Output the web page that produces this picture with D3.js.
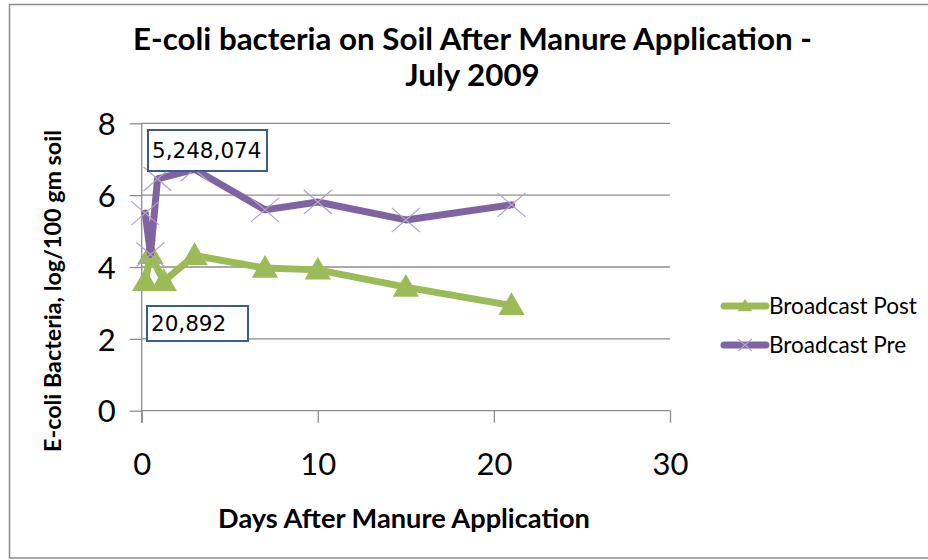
<!DOCTYPE html>
<html>
<head>
<meta charset="utf-8">
<script src="https://cdn.jsdelivr.net/npm/d3@7"></script>
<style>
  html, body { margin: 0; padding: 0; background: #fff; }
  svg { display: block; }
</style>
</head>
<body>
<svg id="chart" width="928" height="560"></svg>
<script>
// ---- data ----
const titleLines = ["E-coli bacteria on Soil After Manure Application -", "July 2009"];
const xTicks = [0, 10, 20, 30];
const yTicks = [0, 2, 4, 6, 8];
const seriesNames = ["Broadcast Post", "Broadcast Pre"];
const postDays = [0.2, 0.5, 1.25, 3, 7, 10, 15, 21];
const postValues = [3.6, 4.35, 3.6, 4.32, 3.97, 3.92, 3.44, 2.93];
const preDays = [0.2, 0.5, 0.9, 3, 7, 10, 15, 21];
const preValues = [5.5, 4.35, 6.45, 6.72, 5.59, 5.81, 5.31, 5.73];
const annotations = ["5,248,074", "20,892"];
const xLabel = "Days After Manure Application";
const yLabel = "E-coli Bacteria, log/100 gm soil";

// ---- layout ----
const svg = d3.select("#chart");
const font = "Lato, 'Open Sans', sans-serif";
const gridColor = "#8c8c8c";
const green = "#9BBB59", purple = "#8064A2", xColor = "#B3A2C7";

// outer border
svg.append("rect").attr("x", 9.5).attr("y", 4.5).attr("width", 940).attr("height", 553.5)
  .attr("fill", "#fff").attr("stroke", "#8c8c8c").attr("stroke-width", 1.5);

const x = d3.scaleLinear().domain([0, 30]).range([141.7, 670]);
const y = d3.scaleLinear().domain([0, 8]).range([410.7, 123.3]);

function fit(sel, w) {
  const n = sel.node();
  const fs = parseFloat(sel.attr("font-size"));
  const cw = n.getComputedTextLength();
  const nf = fs * w / cw;
  sel.attr("font-size", nf.toFixed(2));
  return nf;
}

// title
let titleSize = 26;
titleLines.forEach((t, i) => {
  const s = svg.append("text").attr("x", 472.5).attr("y", i === 0 ? 50 : 85.5)
    .attr("text-anchor", "middle").attr("font-family", font).attr("font-weight", "bold")
    .attr("font-size", titleSize).attr("fill", "#000").text(t);
  if (i === 0) titleSize = fit(s, 679);
});

// gridlines
svg.append("g").selectAll("line").data(yTicks.filter(d => d > 0)).join("line")
  .attr("x1", x(0)).attr("x2", x(30)).attr("y1", d => y(d)).attr("y2", d => y(d))
  .attr("stroke", gridColor).attr("stroke-width", 1.3);

// axes
const yAxis = d3.axisLeft(y).tickValues(yTicks).tickSize(12).tickPadding(14).tickFormat(d3.format("d"));
const gy = svg.append("g").attr("transform", `translate(${x(0)},0)`).call(yAxis);
const xAxis = d3.axisBottom(x).tickValues(xTicks).tickSize(12).tickPadding(30).tickFormat(d3.format("d"));
const gx = svg.append("g").attr("transform", `translate(0,${y(0)})`).call(xAxis);
[gx, gy].forEach(g => {
  g.select(".domain").remove();
  g.selectAll(".tick line").attr("stroke", gridColor).attr("stroke-width", 1.3);
  g.selectAll(".tick text").attr("font-family", font).attr("font-size", 31).attr("fill", "#000");
});
gy.selectAll(".tick text").attr("dy", "0.36em");
// axis lines
svg.append("line").attr("x1", x(0)).attr("x2", x(30)).attr("y1", y(0)).attr("y2", y(0))
  .attr("stroke", gridColor).attr("stroke-width", 1.3);
svg.append("line").attr("x1", x(0)).attr("x2", x(0)).attr("y1", y(8)).attr("y2", y(0) + 12)
  .attr("stroke", gridColor).attr("stroke-width", 1.3);

// axis titles
const xt = svg.append("text").attr("x", 404).attr("y", 528).attr("text-anchor", "middle")
  .attr("font-family", font).attr("font-weight", "bold").attr("font-size", 20).text(xLabel);
fit(xt, 372);
const yt = svg.append("text").attr("transform", "translate(61,291) rotate(-90)").attr("text-anchor", "middle")
  .attr("font-family", font).attr("font-weight", "bold").attr("font-size", 20).text(yLabel);
fit(yt, 322);

// series
const line = d3.line().x(d => x(d[0])).y(d => y(d[1]));
const postPts = postDays.map((d, i) => [d, postValues[i]]);
const prePts = preDays.map((d, i) => [d, preValues[i]]);

const tri = d3.symbol().type(d3.symbolTriangle).size(300);
function xMark(g, cx, cy, w, h) {
  g.append("path").attr("d", `M${cx - w / 2},${cy - h / 2}L${cx + w / 2},${cy + h / 2}M${cx - w / 2},${cy + h / 2}L${cx + w / 2},${cy - h / 2}`)
    .attr("stroke", xColor).attr("stroke-width", 1.2).attr("fill", "none");
}

// post (green)
svg.append("path").datum(postPts).attr("d", line).attr("fill", "none")
  .attr("stroke", green).attr("stroke-width", 7).attr("stroke-linejoin", "round").attr("stroke-linecap", "round");
svg.append("g").selectAll("path").data(postPts).join("path")
  .attr("transform", d => `translate(${x(d[0])},${y(d[1]) + 2})`).attr("d", tri).attr("fill", green);

// pre (purple)
svg.append("path").datum(prePts).attr("d", line).attr("fill", "none")
  .attr("stroke", purple).attr("stroke-width", 7).attr("stroke-linejoin", "round").attr("stroke-linecap", "round");
const xg = svg.append("g");
prePts.forEach(d => xMark(xg, x(d[0]), y(d[1]), 28, 24));

// annotation boxes
const boxes = [
  { text: annotations[0], x: 148, y: 130, w: 119, h: 41 },
  { text: annotations[1], x: 147, y: 306, w: 101, h: 35 }
];
boxes.forEach(b => {
  svg.append("rect").attr("x", b.x).attr("y", b.y).attr("width", b.w).attr("height", b.h)
    .attr("fill", "#fff").attr("stroke", "#385D8A").attr("stroke-width", 2);
  svg.append("text").attr("x", b.x + 4).attr("y", b.y + b.h / 2).attr("dy", "0.36em")
    .attr("font-family", "'DejaVu Sans', Verdana, sans-serif").attr("font-size", 21.5).text(b.text);
});

// legend
const legY = [306, 345];
let legSize = 18;
seriesNames.forEach((name, i) => {
  const col = i === 0 ? green : purple;
  svg.append("line").attr("x1", 724).attr("x2", 766).attr("y1", legY[i]).attr("y2", legY[i])
    .attr("stroke", col).attr("stroke-width", 7).attr("stroke-linecap", "round");
  if (i === 0) {
    svg.append("path").attr("transform", `translate(745,${legY[i] + 1})`)
      .attr("d", d3.symbol().type(d3.symbolTriangle).size(90)).attr("fill", col);
  } else {
    xMark(svg, 745, legY[i], 14, 12);
  }
  const t = svg.append("text").attr("x", 769).attr("y", legY[i]).attr("dy", "0.35em")
    .attr("font-family", font).attr("font-size", legSize).text(name);
  if (i === 0) legSize = fit(t, 148);
});
</script>
</body>
</html>
